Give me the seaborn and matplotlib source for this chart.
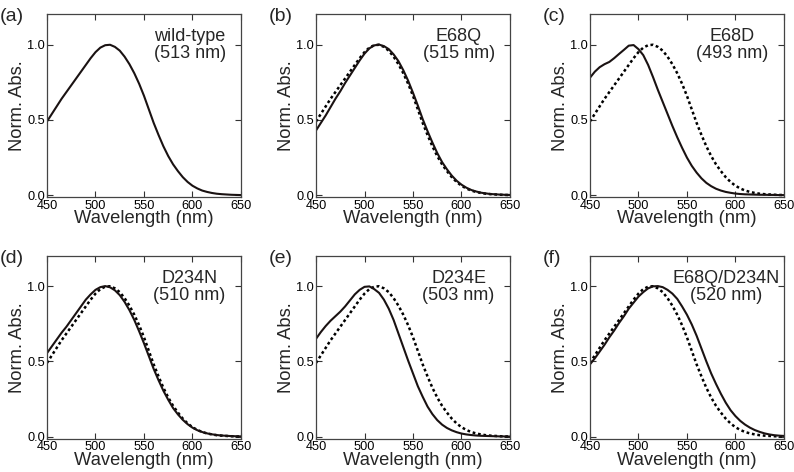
import numpy as np
import pandas as pd
import matplotlib
matplotlib.use("Agg")
import matplotlib.pyplot as plt
import seaborn as sns

# wavelength grid (nm)
wavelength = list(range(450, 655, 5))

# normalized absorption
wild_type = [0.49, 0.54, 0.59, 0.64, 0.685, 0.73, 0.775, 0.82, 0.865, 0.91, 0.95,
             0.98, 0.996, 0.999, 0.985, 0.96, 0.92, 0.87, 0.81, 0.74, 0.66,
             0.57, 0.48, 0.40, 0.325, 0.26, 0.205, 0.16, 0.12, 0.088, 0.063,
             0.045, 0.031, 0.022, 0.015, 0.01, 0.007, 0.005, 0.003, 0.002, 0.001]
e68q = [0.43, 0.48, 0.53, 0.585, 0.64, 0.69, 0.745, 0.795, 0.845, 0.895, 0.94,
        0.975, 0.995, 1.0, 0.99, 0.97, 0.935, 0.89, 0.83, 0.76, 0.68,
        0.595, 0.505, 0.425, 0.35, 0.28, 0.22, 0.172, 0.13, 0.096, 0.07,
        0.05, 0.035, 0.025, 0.017, 0.012, 0.008, 0.006, 0.004, 0.003, 0.002]
e68d = [0.78, 0.82, 0.85, 0.87, 0.885, 0.91, 0.938, 0.965, 0.993, 0.997, 0.97,
        0.93, 0.865, 0.785, 0.70, 0.62, 0.54, 0.46, 0.385, 0.315, 0.25,
        0.195, 0.15, 0.112, 0.082, 0.06, 0.043, 0.031, 0.022, 0.016, 0.011,
        0.008, 0.006, 0.005, 0.004, 0.003, 0.003, 0.002, 0.002, 0.001, 0.001]
d234n = [0.555, 0.60, 0.645, 0.69, 0.73, 0.775, 0.82, 0.865, 0.91, 0.945, 0.975,
         0.993, 1.0, 0.992, 0.972, 0.94, 0.895, 0.84, 0.775, 0.70, 0.62,
         0.535, 0.45, 0.375, 0.305, 0.245, 0.19, 0.148, 0.112, 0.083, 0.06,
         0.043, 0.031, 0.022, 0.016, 0.011, 0.008, 0.006, 0.004, 0.003, 0.002]
d234e = [0.65, 0.695, 0.735, 0.77, 0.80, 0.83, 0.865, 0.905, 0.945, 0.975, 0.995,
         0.998, 0.98, 0.955, 0.91, 0.85, 0.775, 0.685, 0.595, 0.505, 0.42,
         0.335, 0.265, 0.2, 0.15, 0.11, 0.08, 0.058, 0.042, 0.03, 0.021,
         0.015, 0.011, 0.008, 0.006, 0.005, 0.004, 0.003, 0.002, 0.002, 0.001]
e68q_d234n = [0.48, 0.52, 0.565, 0.61, 0.66, 0.705, 0.755, 0.80, 0.85, 0.89, 0.93,
              0.96, 0.985, 0.998, 1.0, 0.993, 0.975, 0.95, 0.915, 0.865, 0.81,
              0.745, 0.67, 0.585, 0.50, 0.42, 0.35, 0.285, 0.226, 0.176, 0.137,
              0.105, 0.08, 0.06, 0.044, 0.032, 0.022, 0.015, 0.01, 0.007, 0.005]

panel_tags = ["(a)", "(b)", "(c)", "(d)", "(e)", "(f)"]
names = ["wild-type", "E68Q", "E68D", "D234N", "D234E", "E68Q/D234N"]
peaks = ["513 nm", "515 nm", "493 nm", "510 nm", "503 nm", "520 nm"]
spectra = [wild_type, e68q, e68d, d234n, d234e, e68q_d234n]

sns.set_style("ticks")
plt.rcParams["font.family"] = ["Liberation Sans", "DejaVu Sans"]

fig = plt.figure(figsize=(7.94, 4.72), dpi=100)

lefts = [0.0592, 0.398, 0.743]
bottoms = [0.5816, 0.070]
w, h = 0.2443, 0.3877

for i in range(6):
    row, col = divmod(i, 3)
    ax = fig.add_axes([lefts[col], bottoms[row], w, h])

    # wild-type reference as dotted line in the mutant panels
    if i > 0:
        sns.lineplot(x=wavelength, y=wild_type, ax=ax, color="black",
                     linestyle=(0, (1.1, 1.1)), linewidth=1.8)
    sns.lineplot(x=wavelength, y=spectra[i], ax=ax, color="#1a1212",
                 linewidth=1.5)

    ax.set_xlim(450, 650)
    ax.set_ylim(-0.015, 1.2)
    ax.set_xticks([450, 500, 550, 600, 650])
    ax.set_yticks([0.0, 0.5, 1.0])
    ax.set_yticklabels(["0.0", "0.5", "1.0"])
    ax.tick_params(direction="in", length=4, width=0.8, labelsize=9.2,
                   top=True, right=True, pad=1.5, colors="#333333",
                   labelcolor="black")
    for s in ax.spines.values():
        s.set_linewidth(0.9)
        s.set_color("#444444")

    ax.set_xlabel("Wavelength (nm)", fontsize=13.2, labelpad=-1)
    ax.set_ylabel("Norm. Abs.", fontsize=13.2, labelpad=1)

    tx = 0.70 if i == 5 else 0.735
    ax.text(tx, 0.925, f"{names[i]}\n({peaks[i]})", transform=ax.transAxes,
            ha="center", va="top", fontsize=13, linespacing=1.0)

    fig.text(lefts[col] - 0.059, bottoms[row] + h - 0.005, panel_tags[i],
             fontsize=14, ha="left", va="center")

fig.savefig("out.png", dpi=100)
